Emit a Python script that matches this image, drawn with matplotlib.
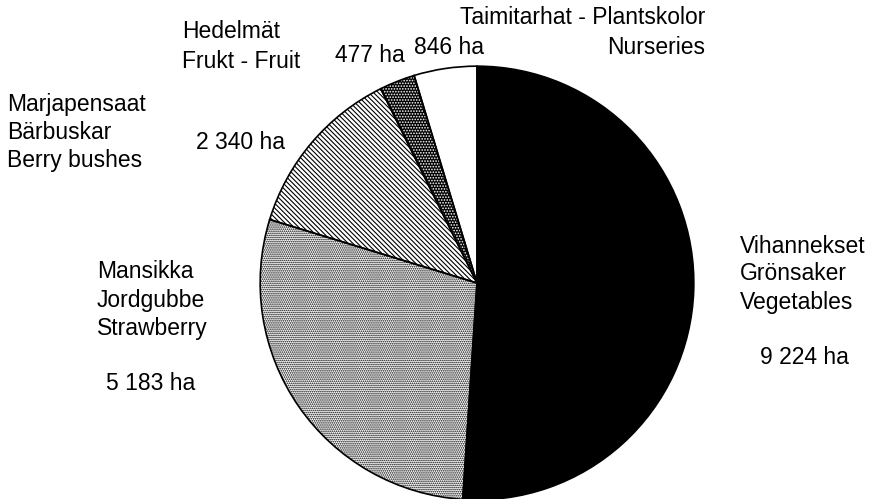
"""
Puutarhakasvien viljelyala (ha) -- piirakkakaavio.
"""

import matplotlib

matplotlib.use("Agg")
import matplotlib.pyplot as plt

plt.rcParams["font.family"] = ["Liberation Sans", "DejaVu Sans"]
plt.rcParams["hatch.linewidth"] = 0.8

# clockwise from the top
categories = ["Vegetables", "Strawberry", "Berry bushes", "Fruit", "Nurseries"]
areas_ha = [9224, 5183, 2340, 477, 846]

facecolors = ["black", "white", "white", "black", "white"]
hatchcolors = ["black", "black", "black", "white", "white"]
hatches = [None, "........", "\\\\\\\\\\\\\\", "......", None]

W, H = 881, 499
fig = plt.figure(figsize=(W / 100, H / 100), dpi=100)

# pie centre and radius in pixels
cx, cy, r = 477, 283, 219
ax = fig.add_axes([(cx - r) / W, (H - cy - r) / H, 2 * r / W, 2 * r / H])

wedges, _ = ax.pie(areas_ha, startangle=90, counterclock=False, radius=1)
for w, fc, hc, h in zip(wedges, facecolors, hatchcolors, hatches):
    w.set_facecolor(fc)
    w.set_edgecolor(hc)
    w.set_linewidth(0)
    if h:
        w.set_hatch(h)

# outlines on top
outline, _ = ax.pie(areas_ha, startangle=90, counterclock=False, radius=1,
                    wedgeprops=dict(fill=False, edgecolor="black", linewidth=1.2))
ax.set_xlim(-1.01, 1.01)
ax.set_ylim(-1.01, 1.01)
ax.axis("off")


def label(x, y, s, ha="left"):
    fig.text(x / W, 1 - y / H, s, ha=ha, va="center", fontsize=16.5, color="black")


label(182, 31, "Hedelmät")
label(182, 61, "Frukt - Fruit")
label(335, 55, "477 ha")
label(414, 47, "846 ha")
label(705, 18, "Taimitarhat - Plantskolor", ha="right")
label(705, 47, "Nurseries", ha="right")

label(7, 104, "Marjapensaat")
label(7, 133, "Bärbuskar")
label(7, 161, "Berry bushes")
label(196, 142, "2 340 ha")

label(97, 272, "Mansikka")
label(97, 300, "Jordgubbe")
label(97, 328, "Strawberry")
label(106, 383, "5 183 ha")

label(740, 246, "Vihannekset")
label(740, 274, "Grönsaker")
label(740, 302, "Vegetables")
label(760, 357, "9 224 ha")

fig.savefig("out.png", dpi=100)
